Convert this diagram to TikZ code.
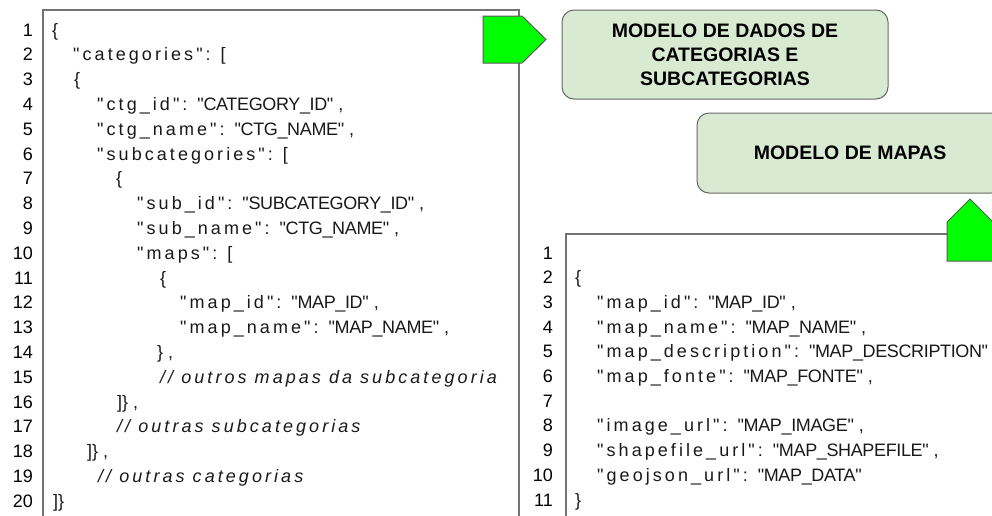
\documentclass[tikz,border=0pt]{standalone}
\usepackage{fontspec}
\setmainfont{Liberation Sans}
\newfontfamily\keyfont[LetterSpace=17]{Liberation Sans}
\newfontfamily\valfont[LetterSpace=-2]{Liberation Sans}
\usetikzlibrary{positioning}

\definecolor{modelgreen}{HTML}{D9EAD3}
\definecolor{tabgreen}{HTML}{00FF00}

\newcommand\codesize{\fontsize{18}{21}\selectfont}
% "key": "VALUE"
\newcommand\kv[2]{{\keyfont"#1":}\ \ {\valfont"#2"}}
\newcommand\cmt[1]{{\keyfont\itshape // #1}}

\begin{document}
\begin{tikzpicture}[x=1pt,y=-1pt,
    code/.style={anchor=base west,inner sep=0pt,text=black!90,font=\codesize},
    lineno/.style={anchor=base east,inner sep=0pt,text=black,font=\codesize},
    frame/.style={draw=black!55,line width=1.3pt},
    modelbox/.style={draw=black!60,line width=1pt,fill=modelgreen,rounded corners=12pt,
      align=center,text=black,font=\bfseries\fontsize{19.5}{24}\selectfont},
    tab/.style={draw=black!65,line width=1pt,fill=tabgreen,line join=miter}]

    \useasboundingbox (0,0) rectangle (992,515);

    % code frames (open at the bottom)
    \draw[frame] (43,520) |- (519,10) -- (519,520);
    \draw[frame] (566,520) |- (1000,234);

    % categories listing
    \foreach \n in {1,...,20}
        \node[lineno] (cl\n) at (33,{36+(\n-1)*24.8}) {\n};

    \node[code] (c1)  at (52,36)        {\{};
    \node[code] (c2)  at (73,60.8)      {{\keyfont"categories":}\ \ [};
    \node[code] (c3)  at (74,85.6)      {\{};
    \node[code] (c4)  at (97,110.4)     {\kv{ctg\_id}{CATEGORY\_ID} ,};
    \node[code] (c5)  at (97,135.2)     {\kv{ctg\_name}{CTG\_NAME} ,};
    \node[code] (c6)  at (97,160)       {{\keyfont"subcategories":}\ \ [};
    \node[code] (c7)  at (116,184.8)    {\{};
    \node[code] (c8)  at (137,209.6)    {\kv{sub\_id}{SUBCATEGORY\_ID} ,};
    \node[code] (c9)  at (137,234.4)    {\kv{sub\_name}{CTG\_NAME} ,};
    \node[code] (c10) at (137,259.2)    {{\keyfont"maps":}\ \ [};
    \node[code] (c11) at (160,284)      {\{};
    \node[code] (c12) at (180,308.8)    {\kv{map\_id}{MAP\_ID} ,};
    \node[code] (c13) at (180,333.6)    {\kv{map\_name}{MAP\_NAME} ,};
    \node[code] (c14) at (157,358.4)    {\} ,};
    \node[code] (c15) at (160,383.2)    {\cmt{outros mapas da subcategoria}};
    \node[code] (c16) at (117,408)      {]\} ,};
    \node[code] (c17) at (117,432.8)    {\cmt{outras subcategorias}};
    \node[code] (c18) at (87,457.6)     {]\} ,};
    \node[code] (c19) at (98,482.4)     {\cmt{outras categorias}};
    \node[code] (c20) at (53,507.2)     {]\}};

    % maps listing
    \foreach \n in {1,...,11}
        \node[lineno] (ml\n) at (553,{259+(\n-1)*24.7}) {\n};

    \node[code] (m2)  at (575,283.7)    {\{};
    \node[code] (m3)  at (597,308.4)    {\kv{map\_id}{MAP\_ID} ,};
    \node[code] (m4)  at (597,333.1)    {\kv{map\_name}{MAP\_NAME} ,};
    \node[code] (m5)  at (597,357.8)    {\kv{map\_description}{MAP\_DESCRIPTION}};
    \node[code] (m6)  at (597,382.5)    {\kv{map\_fonte}{MAP\_FONTE} ,};
    \node[code] (m8)  at (597,431.9)    {\kv{image\_url}{MAP\_IMAGE} ,};
    \node[code] (m9)  at (597,456.6)    {\kv{shapefile\_url}{MAP\_SHAPEFILE} ,};
    \node[code] (m10) at (597,481.3)    {\kv{geojson\_url}{MAP\_DATA}};
    \node[code] (m11) at (575,506)      {\}};

    % green tabs
    \draw[tab] (483,16) -- (522,16) -- (546,39.5) -- (522,63) -- (483,63) -- cycle;
    \draw[tab] (947,261) -- (947,222) -- (970,199) -- (993,222) -- (993,261) -- cycle;

    % model titles
    \node[modelbox,minimum width=326pt,minimum height=89pt] (catmodel) at (725,54.5)
        {MODELO DE DADOS DE\\CATEGORIAS E\\SUBCATEGORIAS};
    \node[modelbox,minimum width=306pt,minimum height=80pt] (mapmodel) at (850,153)
        {MODELO DE MAPAS};

\end{tikzpicture}
\end{document}
